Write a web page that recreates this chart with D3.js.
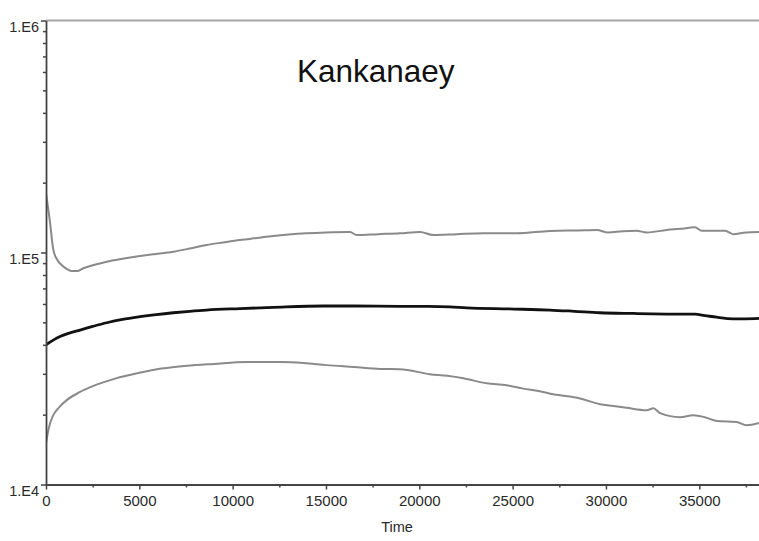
<!DOCTYPE html>
<html>
<head>
<meta charset="utf-8">
<script src="https://cdn.jsdelivr.net/npm/d3@7"></script>
<style>
  html, body { margin: 0; padding: 0; background: #fff; }
  svg { display: block; }
  text { font-family: Arial, "Liberation Sans", sans-serif; }
</style>
</head>
<body>
<svg id="chart" width="759" height="541"></svg>
<script>
// Upper envelope (grey)
const upperTime = [0, 200, 391, 600, 840, 1100, 1375, 1700, 2000, 2600, 3250, 4100, 5036, 5900, 6820, 7700, 8600, 9500, 10390, 11300, 12180, 13000, 13970, 15000, 16290, 16640, 17800, 18960, 20040, 20750, 22000, 23430, 25220, 27000, 28500, 29500, 30120, 30900, 31640, 32180, 33250, 34000, 34770, 35130, 36380, 36820, 37500, 38200];
const upperValues = [180000, 138000, 103000, 93000, 88400, 85000, 83200, 83300, 85500, 88500, 91300, 94000, 96600, 98500, 100800, 104000, 107700, 110500, 113200, 115500, 117800, 119500, 121000, 122000, 122600, 119000, 120000, 121000, 122600, 119000, 120000, 121000, 121000, 123800, 124500, 125000, 122000, 123500, 124000, 122000, 125000, 126500, 128400, 124000, 124000, 120000, 122000, 122600];

// Central estimate (black)
const middleTime = [0, 300, 750, 1200, 1820, 2500, 3250, 4100, 5036, 5900, 6820, 7700, 8600, 10400, 12180, 14860, 16500, 18960, 20500, 21640, 22540, 24800, 27000, 28300, 29680, 31500, 33250, 34770, 35300, 35930, 36820, 37500, 38200];
const middleValues = [40000, 41500, 43400, 44800, 46300, 48000, 49800, 51500, 52900, 54000, 55000, 55800, 56500, 57300, 58000, 58800, 58800, 58600, 58600, 58300, 57700, 57100, 56500, 55800, 55000, 54600, 54300, 54200, 53500, 52600, 51800, 51800, 52000];

// Lower envelope (grey)
const lowerTime = [0, 150, 391, 700, 1110, 1800, 2540, 3700, 5000, 6200, 7540, 9000, 10750, 12540, 13800, 15040, 16500, 17900, 18960, 20570, 21500, 22360, 23610, 24680, 25570, 26400, 27180, 28610, 29680, 30400, 31110, 32180, 32540, 32900, 33970, 34680, 35300, 35930, 37000, 37540, 38200];
const lowerValues = [15000, 17500, 19900, 21500, 23100, 25000, 26600, 28600, 30300, 31600, 32500, 33100, 33700, 33700, 33400, 32700, 32100, 31500, 31400, 29900, 29400, 28700, 27300, 26800, 25900, 25300, 24500, 23500, 22200, 21800, 21400, 20900, 21300, 20300, 19500, 19900, 19500, 18800, 18600, 18000, 18400];

const xMajorTicks = [0, 5000, 10000, 15000, 20000, 25000, 30000, 35000];
const xMinorTicks = [2500, 7500, 12500, 17500, 22500, 27500, 32500, 37500];
const yMajorTicks = [1e4, 1e5, 1e6];
const yTickLabels = ["1.E4", "1.E5", "1.E6"];
const titleText = "Kankanaey";
const xAxisTitle = "Time";

const svg = d3.select("#chart");
const plotLeft = 46, plotRight = 759, plotTop = 20.5, plotBottom = 484.5;

const x = d3.scaleLinear().domain([0, 38200]).range([plotLeft, plotRight]);
const y = d3.scaleLog().domain([1e4, 1e6]).range([plotBottom, plotTop]);

// minor y ticks: 2..9 within each decade
const yMinorTicks = [];
[1e4, 1e5].forEach(d => { for (let k = 2; k <= 9; k++) yMinorTicks.push(d * k); });

// top reference line at 1.E6
svg.append("line")
  .attr("x1", plotLeft).attr("x2", plotRight)
  .attr("y1", y(1e6)).attr("y2", y(1e6))
  .attr("stroke", "#a6a6a6").attr("stroke-width", 2);

svg.append("defs").append("clipPath").attr("id", "plot")
  .append("rect").attr("x", plotLeft).attr("y", plotTop)
  .attr("width", plotRight - plotLeft).attr("height", plotBottom - plotTop);

const line = d3.line()
  .x(d => x(d[0]))
  .y(d => y(d[1]))
  .curve(d3.curveMonotoneX);

const series = [
  { t: upperTime, v: upperValues, color: "#8a8a8a", w: 2 },
  { t: lowerTime, v: lowerValues, color: "#8a8a8a", w: 2 },
  { t: middleTime, v: middleValues, color: "#111", w: 2.8 }
];

const g = svg.append("g").attr("clip-path", "url(#plot)");
series.forEach(s => {
  g.append("path")
    .datum(s.t.map((t, i) => [t, s.v[i]]))
    .attr("fill", "none")
    .attr("stroke", s.color)
    .attr("stroke-width", s.w)
    .attr("stroke-linejoin", "round")
    .attr("d", line);
});

const axisColor = "#444";
const labelColor = "#2a2a2a";

// y axis: minor ticks
svg.append("g")
  .attr("transform", `translate(${plotLeft},0)`)
  .call(d3.axisLeft(y).tickValues(yMinorTicks).tickSize(3).tickFormat(""))
  .call(a => a.select(".domain").remove())
  .call(a => a.selectAll("line").attr("stroke", axisColor).attr("stroke-width", 1.5));

// y axis: decades with labels
svg.append("g")
  .attr("transform", `translate(${plotLeft},0)`)
  .call(d3.axisLeft(y).tickValues(yMajorTicks).tickSize(5).tickSizeOuter(0)
    .tickFormat((d, i) => yTickLabels[i]))
  .call(a => a.select(".domain").attr("stroke", axisColor).attr("stroke-width", 1.8))
  .call(a => a.selectAll("line").attr("stroke", axisColor).attr("stroke-width", 1.5))
  .call(a => a.selectAll("text")
    .attr("x", -7).attr("dy", "0.75em")
    .attr("font-size", "14.5px").attr("fill", labelColor));

// x axis: minor ticks
svg.append("g")
  .attr("transform", `translate(0,${plotBottom})`)
  .call(d3.axisBottom(x).tickValues(xMinorTicks).tickSize(3).tickFormat(""))
  .call(a => a.select(".domain").remove())
  .call(a => a.selectAll("line").attr("stroke", axisColor).attr("stroke-width", 1.5));

// x axis: major ticks with labels
svg.append("g")
  .attr("transform", `translate(0,${plotBottom})`)
  .call(d3.axisBottom(x).tickValues(xMajorTicks).tickSize(5).tickSizeOuter(0).tickFormat(d3.format("d")))
  .call(a => a.select(".domain").attr("stroke", axisColor).attr("stroke-width", 1.8))
  .call(a => a.selectAll("line").attr("stroke", axisColor).attr("stroke-width", 1.5))
  .call(a => a.selectAll("text")
    .attr("y", 10).attr("dy", "0.75em")
    .attr("font-size", "15px").attr("fill", labelColor));

// axis title
svg.append("text")
  .attr("x", 397).attr("y", 532)
  .attr("text-anchor", "middle")
  .attr("font-size", "14.5px").attr("fill", labelColor)
  .text(xAxisTitle);

// chart title
svg.append("text")
  .attr("x", 297).attr("y", 81.5)
  .attr("font-size", "31.5px").attr("fill", "#111")
  .text(titleText);
</script>
</body>
</html>
